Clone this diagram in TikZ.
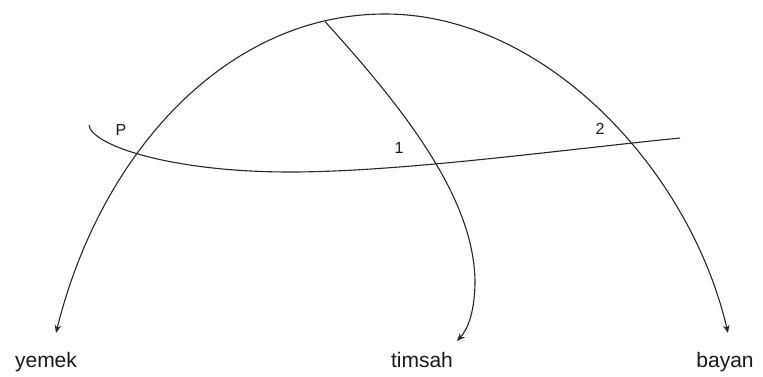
\documentclass[tikz,border=0pt]{standalone}
\usepackage{fontspec}
\setmainfont{Liberation Sans}
\usetikzlibrary{arrows.meta}
\begin{document}
\begin{tikzpicture}[x=1pt,y=-1pt,
  conn/.style={draw=black!85, line width=1.1pt},
  tip/.style={-{Stealth[length=8pt,width=6.5pt]}},
  bothtips/.style={{Stealth[length=8pt,width=6.5pt]}-{Stealth[length=8pt,width=6.5pt]}},
  lbl/.style={font=\fontsize{21}{25}\selectfont, anchor=base, inner sep=0pt, text=black!90},
  numlbl/.style={font=\fontsize{16}{19}\selectfont, inner sep=0pt, text=black!90}]
\useasboundingbox (0,0) rectangle (763,376);
\coordinate (yemekTip) at (56,333);
\coordinate (top) at (385,14);
\coordinate (bayanTip) at (728,333);
\coordinate (junc) at (325,21.5);
\coordinate (timsahTip) at (457,341);
\coordinate (hs) at (89,125);
\coordinate (hm) at (290,172);
\coordinate (he) at (680,138);
\node[lbl] (yemek) at (46,367) {yemek};
\node[lbl] (timsah) at (422,367) {timsah};
\node[lbl] (bayan) at (725,367) {bayan};
\node[numlbl] (P) at (121,130) {P};
\node[numlbl] (one) at (399,148) {1};
\node[numlbl] (two) at (600,129) {2};
\draw[conn,bothtips] (yemekTip) .. controls (100,155) and (225,14) .. (top)
  .. controls (545,14) and (690,170) .. (bayanTip);
\draw[conn,tip] (junc) .. controls (405,110) and (476,200) .. (475,285)
  .. controls (474,315) and (467,330) .. (timsahTip);
\draw[conn] (hs) .. controls (91,145) and (170,172) .. (hm)
  .. controls (400,172) and (560,150) .. (he);
\end{tikzpicture}
\end{document}
